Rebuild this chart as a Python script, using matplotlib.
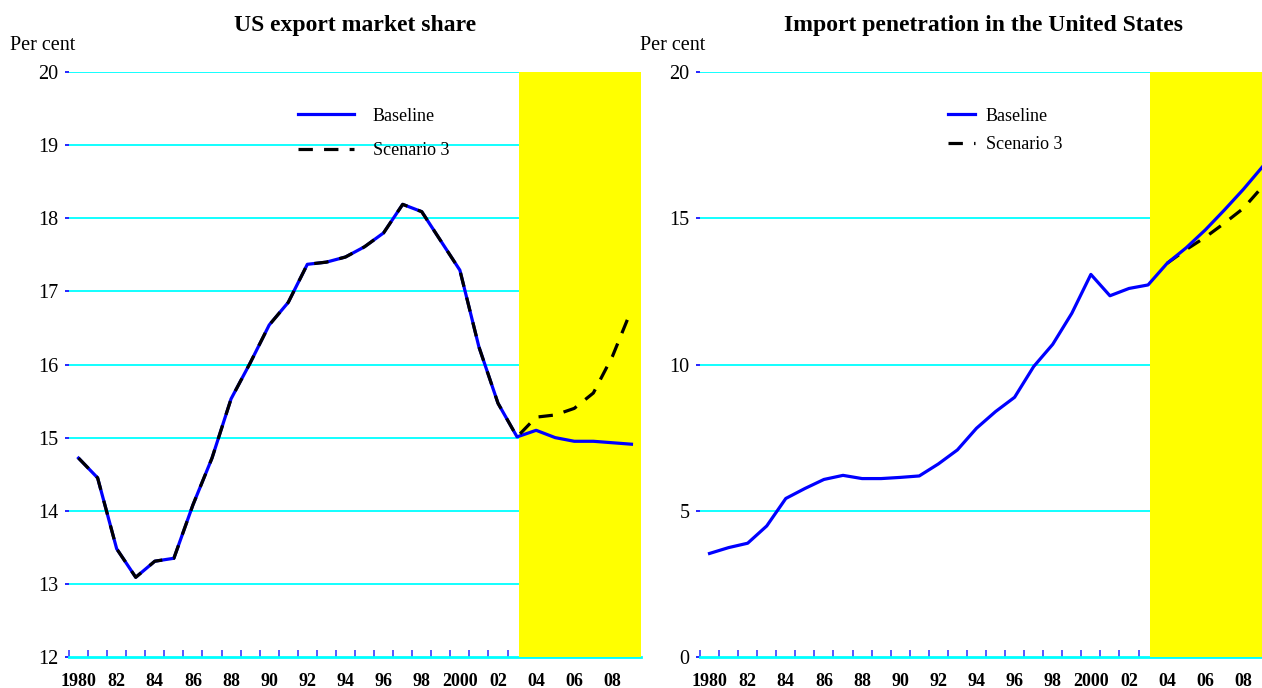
import numpy as np
import matplotlib
matplotlib.use("Agg")
import matplotlib.pyplot as plt
from matplotlib.ticker import FixedLocator

plt.rcParams['font.family'] = ['Liberation Serif', 'DejaVu Serif']

years = list(range(1980, 2010))
projection_start = 2003.1

export_baseline = [14.72, 14.45, 13.48, 13.09, 13.31, 13.35, 14.08, 14.72, 15.53, 16.02,
                   16.54, 16.85, 17.37, 17.40, 17.47, 17.61, 17.80, 18.19, 18.09, 17.69,
                   17.29, 16.24, 15.47, 15.01, 15.10, 15.00, 14.95, 14.95, 14.93, 14.91]
export_scenario3 = [14.72, 14.45, 13.48, 13.09, 13.31, 13.35, 14.08, 14.72, 15.53, 16.02,
                    16.54, 16.85, 17.37, 17.40, 17.47, 17.61, 17.80, 18.19, 18.09, 17.69,
                    17.29, 16.24, 15.47, 15.01, 15.28, 15.31, 15.40, 15.61, 16.11, 16.75]

import_baseline = [3.54, 3.74, 3.89, 4.48, 5.42, 5.76, 6.07, 6.21, 6.10, 6.10,
                   6.14, 6.19, 6.60, 7.08, 7.82, 8.39, 8.88, 9.93, 10.69, 11.75,
                   13.08, 12.35, 12.60, 12.72, 13.46, 13.99, 14.60, 15.28, 15.99, 16.76]
import_scenario3 = [np.nan] * 24 + [13.46, 13.93, 14.35, 14.83, 15.34, 16.08]

xtick_years = list(range(1980, 2010, 2))
xtick_labels = ['1980', '82', '84', '86', '88', '90', '92', '94', '96', '98',
                '2000', '02', '04', '06', '08']

BLUE = '#0000FF'
CYAN = '#00FFFF'
YELLOW = '#FFFF00'
W, H = 1262, 688

fig = plt.figure(figsize=(W / 100, H / 100), dpi=100)
ax1 = fig.add_axes([69 / W, 31 / H, 572 / W, 585 / H])
ax2 = fig.add_axes([700 / W, 31 / H, 572 / W, 585 / H])


def style(ax, ylim, yticks, grid_vals, title, title_x, leg_x, handlelen, textpad, labsp):
    ax.set_xlim(1979.5, 2009.5)
    ax.set_ylim(*ylim)
    ax.set_axisbelow(True)
    for v in grid_vals:
        ax.axhline(v, color=CYAN, lw=1.3, zorder=1)
    ax.axvspan(projection_start, 2009.5, color=YELLOW, zorder=2, lw=0)
    for s in ['left', 'right', 'top']:
        ax.spines[s].set_visible(False)
    ax.spines['bottom'].set_color(CYAN)
    ax.spines['bottom'].set_linewidth(2)
    ax.spines['bottom'].set_zorder(1.5)
    ax.set_yticks(yticks)
    ax.set_yticklabels([str(v) for v in yticks])
    ax.tick_params(axis='y', direction='out', length=3, width=1.2, color=BLUE,
                   labelsize=14.5, pad=4.5)
    ax.set_xticks(xtick_years)
    ax.set_xticklabels(xtick_labels, fontweight='bold')
    ax.tick_params(axis='x', which='major', length=0, labelsize=13, pad=11.5)
    ax.xaxis.set_minor_locator(FixedLocator([y + 0.5 for y in range(1979, 2009)]))
    ax.tick_params(axis='x', which='minor', direction='in', length=5, width=1.3,
                   color='#4a4aff')
    ax.patch.set_alpha(0)
    fig.text(title_x / W, 1 - 25 / H, title, ha='center', va='center',
             fontsize=17, fontweight='bold')
    leg = ax.legend(loc='upper left', bbox_to_anchor=(leg_x, 0.939), frameon=False,
                    fontsize=13, handlelength=handlelen, handletextpad=textpad,
                    labelspacing=labsp, borderpad=0, borderaxespad=0)
    return leg


# Left chart
ax1.plot(years, export_baseline, color=BLUE, lw=2.3, zorder=3, label='Baseline')
ax1.plot(years, export_scenario3, color='black', lw=2.3, zorder=4, label='Scenario 3',
         dashes=(4.5, 3.5))
style(ax1, (12, 20), list(range(12, 21)), list(range(13, 21)),
      'US export market share', 355, (298 - 69) / 572, 3.1, 1.05, 0.97)
fig.text(10 / W, 1 - 45 / H, 'Per cent', ha='left', va='center', fontsize=14.5)

# Right chart
ax2.plot(years, import_baseline, color=BLUE, lw=2.3, zorder=4, label='Baseline')
ax2.plot(years, import_scenario3, color='black', lw=2.3, zorder=3, label='Scenario 3',
         dashes=(4.5, 3.5))
style(ax2, (0, 20), [0, 5, 10, 15, 20], [5, 10, 15, 20],
      'Import penetration in the United States', 983, (948 - 700) / 572, 1.5, 0.6, 0.62)
fig.text(640 / W, 1 - 45 / H, 'Per cent', ha='left', va='center', fontsize=14.5)

fig.savefig('out.png', dpi=100)
